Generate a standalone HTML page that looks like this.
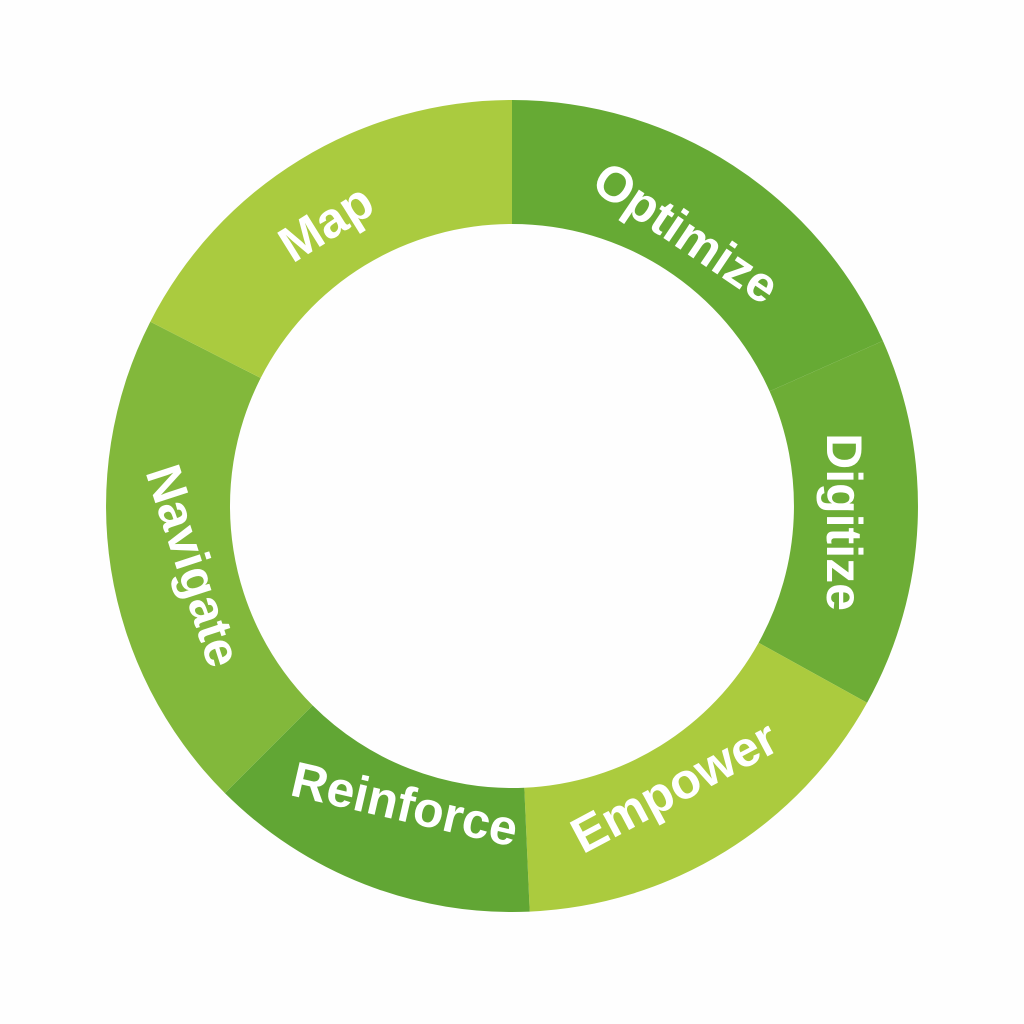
<!DOCTYPE html>
<html><head><meta charset="utf-8"><style>
html,body{margin:0;padding:0;background:#fefefe;}
svg{display:block}
text{font-family:"Liberation Sans",sans-serif;font-weight:bold;fill:#fff;font-size:50px;text-anchor:middle;dominant-baseline:middle}
</style></head><body>
<svg width="1024" height="1024" viewBox="0 0 1024 1024">
<path d="M512 100 A406 406 0 0 1 882.9 340.9 L769.6 391.3 A282 282 0 0 0 512 224Z" fill="#66aa34"/>
<path d="M882.9 340.9 A406 406 0 0 1 867.1 702.8 L758.6 642.7 A282 282 0 0 0 769.6 391.3Z" fill="#6dad36"/>
<path d="M867.1 702.8 A406 406 0 0 1 529.7 911.6 L524.3 787.7 A282 282 0 0 0 758.6 642.7Z" fill="#abcb3e"/>
<path d="M529.7 911.6 A406 406 0 0 1 224.9 793.1 L312.6 705.4 A282 282 0 0 0 524.3 787.7Z" fill="#61a634"/>
<path d="M224.9 793.1 A406 406 0 0 1 150.3 321.7 L260.7 378 A282 282 0 0 0 312.6 705.4Z" fill="#82b83b"/>
<path d="M150.3 321.7 A406 406 0 0 1 512 100 L512 224 A282 282 0 0 0 260.7 378Z" fill="#aacb3f"/>
<text transform="translate(328,226) rotate(-32)">Map</text>
<text transform="translate(684,236) rotate(34)">Optimize</text>
<text transform="translate(840,522) rotate(90)">Digitize</text>
<text transform="translate(676,790) rotate(-28)">Empower</text>
<text transform="translate(404,808) rotate(13)">Reinforce</text>
<text transform="translate(190,567) rotate(72)">Navigate</text>
</svg>
</body></html>
